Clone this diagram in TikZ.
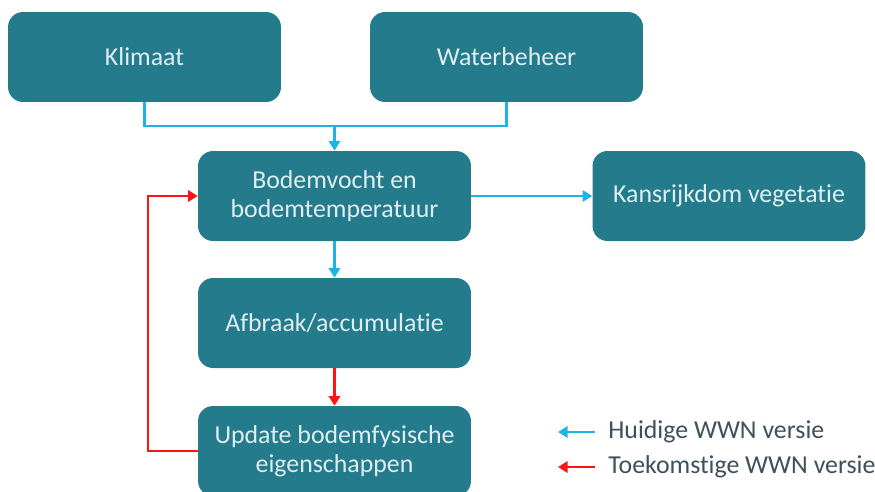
\documentclass[tikz,border=0pt]{standalone}
\usepackage{fontspec}
\setmainfont{Carlito}[Ligatures=NoCommon]
\usepackage{xcolor}
\usepackage{tikz}
\usetikzlibrary{arrows.meta,positioning,calc}
\definecolor{blok}{RGB}{35,123,140}
\definecolor{bloktekst}{RGB}{225,238,241}
\definecolor{huidig}{RGB}{28,180,232}
\definecolor{toekomst}{RGB}{250,20,20}
\definecolor{legtekst}{RGB}{62,80,92}

\begin{document}
\begin{tikzpicture}[x=0.02cm, y=-0.02cm,
    every node/.style={font=\fontsize{14.7}{16.8}\selectfont},
    blokje/.style={fill=blok, text=bloktekst, rounded corners=0.3cm,
                   minimum width=5.46cm, minimum height=1.8cm, align=center},
    pijl/.style={line width=1.2pt, -{Triangle[length=5.5pt,width=6.5pt]}},
    lijn/.style={line width=1.2pt}]
    \clip (0,0) rectangle (875,491);
    \node[blokje] (klimaat) at (144.5,57) {Klimaat};
    \node[blokje] (water) at (506.5,57) {Waterbeheer};
    \node[blokje] (bodem) at (334.5,196) {Bodemvocht en\\bodemtemperatuur};
    \node[blokje] (kans) at (729,196) {Kansrijkdom vegetatie};
    \node[blokje] (afbraak) at (334.5,323) {Afbraak/accumulatie};
    \node[blokje] (update) at (334.5,451) {Update bodemfysische\\eigenschappen};
    \coordinate (samen) at (334.5,126);
    % huidige versie
    \draw[huidig,lijn] (klimaat.south) |- (samen) -| (water.south);
    \draw[huidig,pijl] (samen) -- (bodem.north);
    \draw[huidig,pijl] (bodem.east) -- (kans.west);
    \draw[huidig,pijl] (bodem.south) -- (afbraak.north);
    % toekomstige versie
    \draw[toekomst,pijl] (afbraak.south) -- (update.north);
    \draw[toekomst,pijl] (update.west) -- ++(-50,0) |- (bodem.west);
    % legenda
    \node[anchor=west, text=legtekst, inner xsep=0.26cm] (leg1) at (595,432) {Huidige WWN versie};
    \node[anchor=west, text=legtekst, inner xsep=0.26cm] (leg2) at (595,467) {Toekomstige WWN versie};
    \coordinate (leg1pt) at (558,432);
    \coordinate (leg2pt) at (558,467);
    \draw[huidig,pijl] (leg1.west) -- (leg1pt);
    \draw[toekomst,pijl] (leg2.west) -- (leg2pt);
\end{tikzpicture}
\end{document}
